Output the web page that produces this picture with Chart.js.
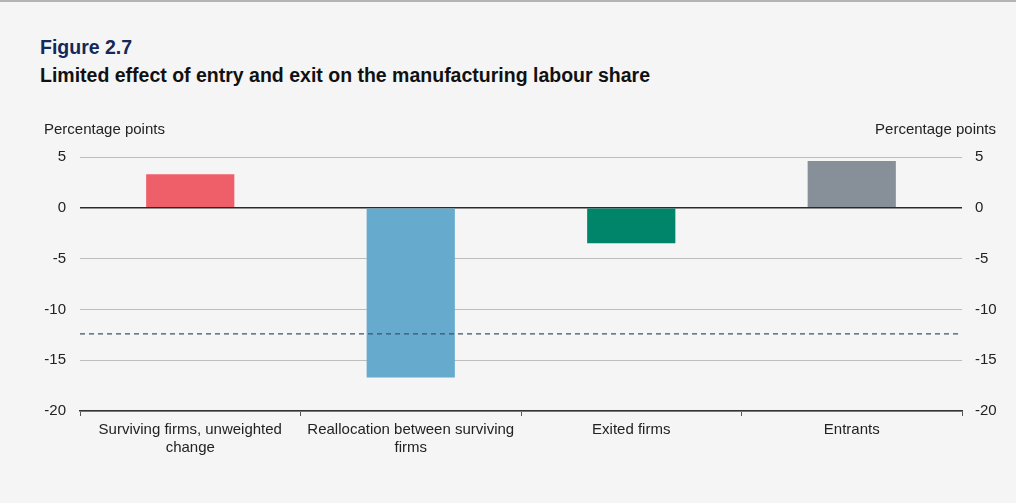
<!DOCTYPE html>
<html>
<head>
<meta charset="utf-8">
<script src="https://cdn.jsdelivr.net/npm/chart.js@4.4.1/dist/chart.umd.min.js"></script>
<style>
  html, body { margin: 0; padding: 0; background: #f5f5f5; }
  #wrap { position: relative; width: 1016px; height: 503px; border-top: 2px solid #b4b4b4; box-sizing: border-box; overflow: hidden; }
  #fig { position: absolute; left: 40px; top: 34px; font: bold 19.5px "Liberation Sans", Arial, sans-serif; color: #14285a; }
  #sub { position: absolute; left: 40px; top: 62px; font: bold 19.5px "Liberation Sans", Arial, sans-serif; color: #111; }
  canvas { position: absolute; left: 0; top: 0; }
</style>
</head>
<body>
<div id="wrap">
  <div id="fig">Figure 2.7</div>
  <div id="sub">Limited effect of entry and exit on the manufacturing labour share</div>
  <canvas id="chart" width="1016" height="501"></canvas>
</div>
<script>
// categories and contributions (percentage points)
const categories = [
    ['Surviving firms, unweighted', 'change'],
    ['Reallocation between surviving', 'firms'],
    'Exited firms',
    'Entrants'
];
const contributions = [3.3, -16.7, -3.5, 4.6];
const barColors = ['#ef5f6a', '#66abce', '#00856a', '#879099'];
// total change, shown as the dashed line
const totalChange = -12.4;
const yTicks = [5, 0, -5, -10, -15, -20];

const FONT = '"Liberation Sans", Arial, sans-serif';

// dashed total line and the two axis captions
const extras = {
    id: 'extras',
    afterDatasetsDraw(chart) {
        const ctx = chart.ctx;
        const area = chart.chartArea;
        const y = chart.scales.y.getPixelForValue(totalChange);
        ctx.save();
        ctx.strokeStyle = '#3d5468';
        ctx.lineWidth = 1.3;
        ctx.setLineDash([5, 4]);
        ctx.beginPath();
        ctx.moveTo(area.left, y);
        ctx.lineTo(area.right, y);
        ctx.stroke();
        ctx.setLineDash([]);

        ctx.fillStyle = '#222';
        ctx.font = '15px ' + FONT;
        ctx.textBaseline = 'middle';
        ctx.textAlign = 'left';
        ctx.fillText('Percentage points', 44, 128);
        ctx.textAlign = 'right';
        ctx.fillText('Percentage points', 996, 128);
        ctx.restore();
    }
};

const yAxis = (position, width, pad) => ({
    type: 'linear',
    position: position,
    min: -20,
    max: 5,
    afterBuildTicks: scale => { scale.ticks = yTicks.map(v => ({ value: v })); },
    afterFit: scale => { scale.width = width; },
    border: { display: false },
    grid: {
        display: position === 'left',
        drawTicks: false,
        color: ctx => ctx.tick && ctx.tick.value === 0 ? '#2a2a2a' : '#bdbdbd',
        lineWidth: ctx => ctx.tick && ctx.tick.value === 0 ? 1.5 : 1
    },
    ticks: {
        padding: pad,
        color: '#222',
        font: { family: FONT, size: 15 }
    }
});

new Chart(document.getElementById('chart'), {
    type: 'bar',
    data: {
        labels: categories,
        datasets: [{
            data: contributions,
            backgroundColor: barColors,
            barPercentage: 0.4,
            categoryPercentage: 1
        }]
    },
    options: {
        responsive: false,
        animation: false,
        layout: { padding: { top: 155, bottom: 0, left: 0, right: 0 } },
        plugins: { legend: { display: false }, tooltip: { enabled: false } },
        scales: {
            x: {
                afterFit: scale => { scale.height = 92; },
                border: { display: true, color: '#333', width: 1.5 },
                grid: {
                    offset: true,
                    drawOnChartArea: false,
                    drawTicks: true,
                    tickLength: 5,
                    color: '#555'
                },
                ticks: {
                    padding: 5,
                    color: '#222',
                    maxRotation: 0,
                    autoSkip: false,
                    font: { family: FONT, size: 15 }
                }
            },
            y: yAxis('left', 80, 14),
            y2: yAxis('right', 54, 13)
        }
    },
    plugins: [extras]
});
</script>
</body>
</html>
